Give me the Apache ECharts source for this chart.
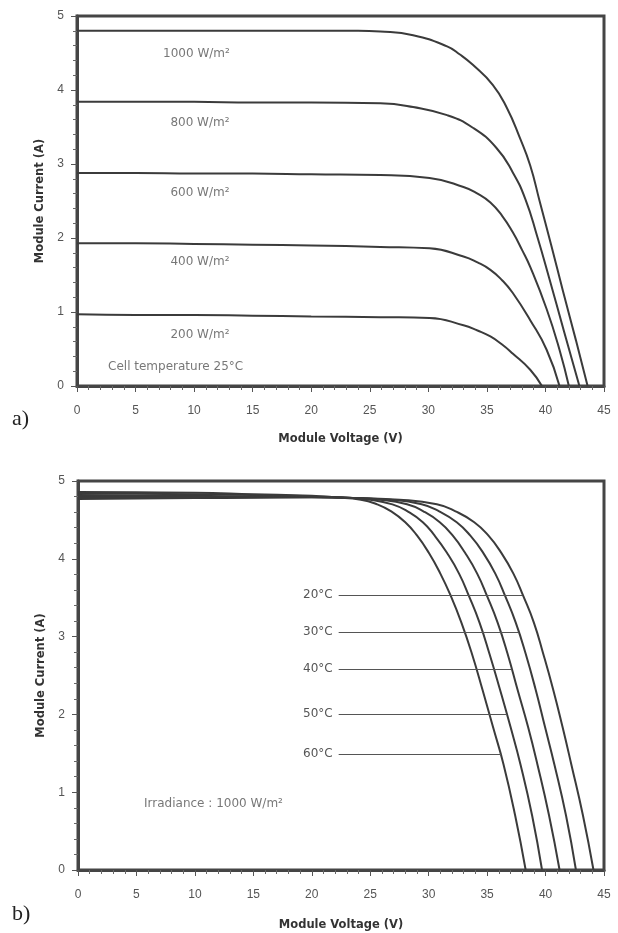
<!DOCTYPE html>
<html lang="en">
<head>
<meta charset="UTF-8">
<title>Module I-V curves</title>
<script src="https://cdn.jsdelivr.net/npm/echarts@6/dist/echarts.min.js"></script>
<style>
    * { margin: 0; padding: 0; }
    body { background: #fff; }
    #chart { width: 618px; height: 933px; }
</style>
</head>
<body>
<div id="chart"></div>
<script>
    // a) irradiance, cell temperature 25°C  -> [voltage V, current A]
    var irrNames = ['1000 W/m²', '800 W/m²', '600 W/m²', '400 W/m²', '200 W/m²'];
    var irr1000 = [[0,4.80],[5,4.80],[10,4.80],[15,4.80],[20,4.80],[24,4.80],[25.9,4.79],[28.7,4.74],[31.6,4.59],[32.7,4.48],[33.8,4.34],[35.5,4.07],[36.7,3.76],[37.8,3.36],[38.7,2.98],[39.5,2.50],[40.5,1.90],[41.5,1.28],[42.6,0.62],[43.6,0]];
    var irr800 = [[0,3.84],[5,3.84],[10,3.84],[15,3.83],[20,3.83],[25.9,3.82],[28.7,3.77],[31.6,3.66],[33.8,3.49],[35.8,3.22],[37.2,2.89],[38.3,2.52],[39.3,2.02],[40.3,1.47],[41.6,0.73],[42.9,0]];
    var irr600 = [[0,2.88],[5,2.88],[10,2.87],[15,2.87],[20,2.86],[25.9,2.85],[30.1,2.81],[33.0,2.69],[34.2,2.60],[35.3,2.48],[36.3,2.30],[37.2,2.08],[38.0,1.84],[38.7,1.61],[40.1,1.04],[41.2,0.49],[42.0,0]];
    var irr400 = [[0,1.93],[5,1.93],[10,1.92],[15,1.91],[20,1.90],[25.9,1.88],[30.1,1.86],[33.0,1.75],[34.2,1.67],[35.3,1.57],[36.3,1.43],[37.2,1.26],[38.7,0.89],[40.1,0.49],[41.2,0]];
    var irr200 = [[0,0.97],[5,0.96],[10,0.96],[15,0.95],[20,0.94],[25.9,0.93],[30.1,0.92],[33.0,0.82],[34.2,0.75],[35.3,0.67],[36.3,0.56],[37.2,0.44],[38.7,0.22],[39.7,0]];

    // b) temperature, irradiance 1000 W/m²
    var tempNames = ['20°C', '30°C', '40°C', '50°C', '60°C'];
    var temp20 = [[0,4.77],[5,4.775],[10,4.78],[15,4.785],[20,4.79],[24,4.78],[27.5,4.76],[30.7,4.70],[32.3,4.61],[33.9,4.47],[35.1,4.30],[36.2,4.08],[37.25,3.81],[38.1,3.52],[39.0,3.18],[39.8,2.78],[40.65,2.32],[41.45,1.84],[42.2,1.36],[43.2,0.70],[44.1,0]];
    var temp30 = [[0,4.795],[5,4.795],[10,4.795],[15,4.79],[20,4.79],[23.5,4.78],[26.7,4.76],[29.4,4.70],[30.9,4.61],[32.4,4.47],[33.55,4.30],[34.65,4.08],[35.7,3.81],[36.55,3.52],[37.45,3.18],[38.3,2.78],[39.15,2.32],[39.95,1.84],[40.75,1.36],[41.75,0.70],[42.6,0]];
    var temp40 = [[0,4.82],[5,4.815],[10,4.81],[15,4.80],[20,4.795],[23,4.785],[25.85,4.76],[28.15,4.70],[29.55,4.61],[30.95,4.47],[32.05,4.30],[33.1,4.08],[34.15,3.81],[35.0,3.52],[35.9,3.18],[36.75,2.78],[37.6,2.32],[38.5,1.84],[39.3,1.36],[40.3,0.70],[41.2,0]];
    var temp50 = [[0,4.84],[5,4.835],[10,4.83],[15,4.82],[20,4.80],[22.5,4.79],[25.0,4.76],[26.9,4.70],[28.2,4.61],[29.5,4.47],[30.5,4.30],[31.55,4.08],[32.6,3.81],[33.45,3.52],[34.35,3.18],[35.2,2.78],[36.1,2.32],[37.0,1.84],[37.85,1.36],[38.85,0.70],[39.7,0]];
    var temp60 = [[0,4.86],[5,4.855],[10,4.85],[15,4.83],[20,4.81],[22,4.79],[24.2,4.76],[25.6,4.70],[26.8,4.61],[28.0,4.47],[29.0,4.30],[30.0,4.08],[31.0,3.81],[31.9,3.52],[32.8,3.18],[33.7,2.78],[34.6,2.32],[35.5,1.84],[36.4,1.36],[37.4,0.70],[38.3,0]];
    // leader lines: current level and the voltage where they meet their curve
    var tempLineI = [3.53, 3.06, 2.58, 2.005, 1.49];
    var tempLineV = [38.0, 37.7, 37.1, 36.7, 36.2];
    var tempLineStart = 22.3;

    var voltMin = 0, voltMax = 45, voltStep = 5;
    var currMin = 0, currMax = 5, currStep = 1;

    var ink = '#3b3b3b';
    var txt = '#555';
    var sans = 'DejaVu Sans';

    function xAxis(gi, gap) {
        return {
            type: 'value', gridIndex: gi,
            min: voltMin, max: voltMax, interval: voltStep,
            name: 'Module Voltage (V)', nameLocation: 'middle', nameGap: gap,
            nameTextStyle: { fontFamily: sans, fontWeight: 'bold', fontSize: 11.5, color: '#333' },
            axisLine: { show: true, lineStyle: { color: '#454545', width: 3 } },
            axisTick: { show: true, length: 6, lineStyle: { color: '#555', width: 1 } },
            minorTick: { show: true, splitNumber: 5, length: 4, lineStyle: { color: '#666', width: 1 } },
            axisLabel: { margin: 19, color: txt, fontSize: 12, fontFamily: 'Liberation Sans' },
            splitLine: { show: false }
        };
    }

    function yAxis(gi, gap) {
        return {
            type: 'value', gridIndex: gi,
            min: currMin, max: currMax, interval: currStep,
            name: 'Module Current (A)', nameLocation: 'middle', nameGap: gap,
            nameTextStyle: { fontFamily: sans, fontWeight: 'bold', fontSize: 11.5, color: '#333' },
            axisLine: { show: true, lineStyle: { color: '#454545', width: 3 } },
            axisTick: { show: true, length: 6, lineStyle: { color: '#555', width: 1 } },
            minorTick: { show: true, splitNumber: 5, length: 4, lineStyle: { color: '#666', width: 1 } },
            axisLabel: { margin: 13, color: txt, fontSize: 12, fontFamily: 'Liberation Sans' },
            splitLine: { show: false }
        };
    }

    function curve(gi, data, extra) {
        var s = {
            type: 'line', xAxisIndex: gi, yAxisIndex: gi,
            data: data, showSymbol: false, symbol: 'none',
            smooth: 0.5,
            lineStyle: { color: ink, width: 2 },
            silent: true
        };
        for (var k in extra) s[k] = extra[k];
        return s;
    }

    function note(gi, items, pos) {
        return {
            type: 'scatter', xAxisIndex: gi, yAxisIndex: gi,
            symbolSize: 0, silent: true,
            data: items,
            label: {
                show: true, position: pos, distance: 0,
                formatter: '{b}', color: txt, fontSize: 12, fontFamily: sans
            }
        };
    }

    var irrData = [irr1000, irr800, irr600, irr400, irr200];
    var tempData = [temp20, temp30, temp40, temp50, temp60];

    var series = [];
    irrData.forEach(function (d) { series.push(curve(0, d, {})); });
    tempData.forEach(function (d, i) {
        series.push(curve(1, d, {
            markLine: {
                silent: true, symbol: 'none',
                lineStyle: { color: '#555', width: 1, type: 'solid' },
                label: { show: true, position: 'start', distance: 6, formatter: tempNames[i], color: txt, fontSize: 12, fontFamily: sans },
                data: [[{ coord: [tempLineStart, tempLineI[i]] }, { coord: [tempLineV[i], tempLineI[i]] }]]
            }
        }));
    });

    // irradiance labels, centred under each curve
    series.push(note(0, [
        { name: irrNames[0], value: [10.2, 4.49] },
        { name: irrNames[1], value: [10.5, 3.55] },
        { name: irrNames[2], value: [10.5, 2.61] },
        { name: irrNames[3], value: [10.5, 1.68] },
        { name: irrNames[4], value: [10.5, 0.69] }
    ], 'inside'));
    series.push(note(0, [{ name: 'Cell temperature 25°C', value: [2.65, 0.26] }], 'right'));
    series.push(note(1, [{ name: 'Irradiance : 1000 W/m²', value: [5.65, 0.85] }], 'right'));

    var chart = echarts.init(document.getElementById('chart'), null, { renderer: 'canvas' });
    chart.setOption({
        backgroundColor: '#fff',
        animation: false,
        grid: [
            { left: 77, right: 14, top: 16, height: 370, show: true, borderColor: '#454545', borderWidth: 3, backgroundColor: 'transparent' },
            { left: 78, right: 14, top: 481, height: 389, show: true, borderColor: '#454545', borderWidth: 3, backgroundColor: 'transparent' }
        ],
        xAxis: [xAxis(0, 47), xAxis(1, 49)],
        yAxis: [yAxis(0, 30), yAxis(1, 29)],
        graphic: [
            { type: 'text', left: 12, top: 408, style: { text: 'a)', font: '22px "Liberation Serif"', fill: '#222' } },
            { type: 'text', left: 12, top: 903, style: { text: 'b)', font: '22px "Liberation Serif"', fill: '#222' } }
        ],
        series: series
    });
</script>
</body>
</html>
